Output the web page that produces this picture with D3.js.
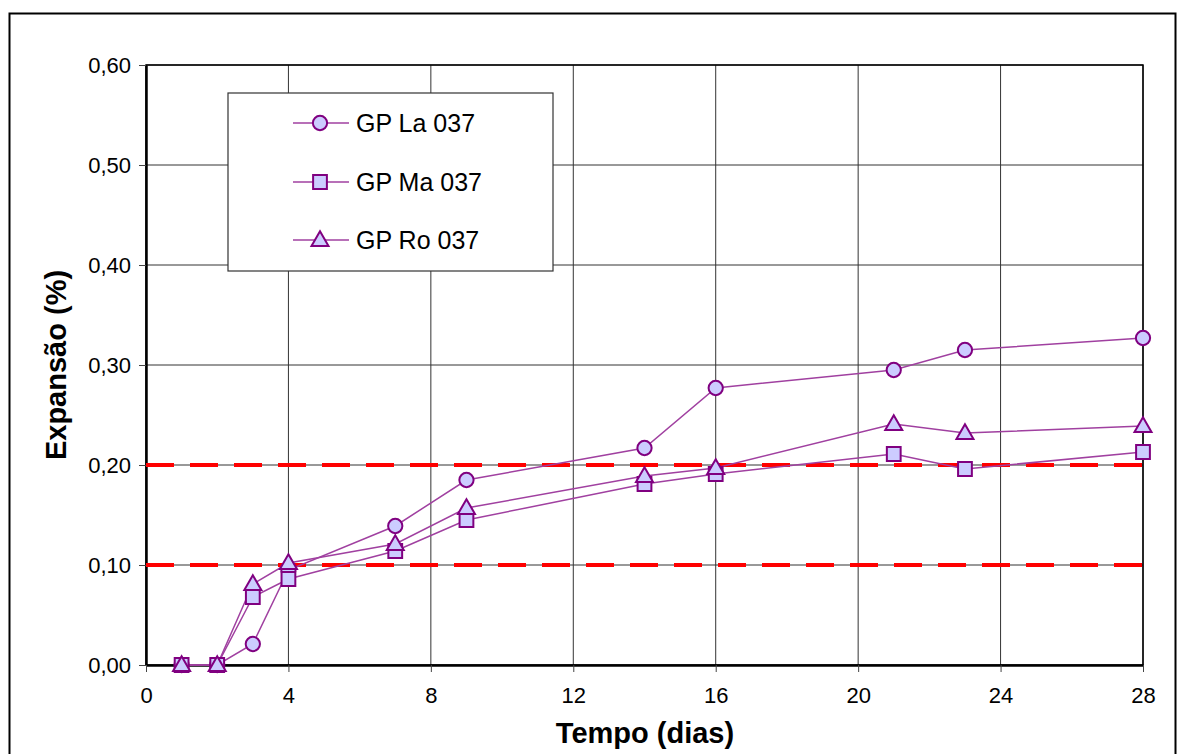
<!DOCTYPE html>
<html><head><meta charset="utf-8">
<script src="https://cdn.jsdelivr.net/npm/d3@7"></script>
<style>body{margin:0;background:#fff;}svg{display:block;font-family:"Liberation Sans",Arial,sans-serif;}</style>
</head><body>
<svg id="c" width="1178" height="754"></svg>
<script>
const days = [1, 2, 3, 4, 7, 9, 14, 16, 21, 23, 28];
const laValues = [0, 0, 0.021, 0.095, 0.139, 0.185, 0.217, 0.277, 0.295, 0.315, 0.327];
const maValues = [0, 0, 0.068, 0.086, 0.114, 0.145, 0.181, 0.191, 0.211, 0.196, 0.213];
const roValues = [0, 0, 0.081, 0.102, 0.121, 0.157, 0.189, 0.197, 0.241, 0.232, 0.239];
const seriesNames = ["GP La 037", "GP Ma 037", "GP Ro 037"];
const xTicks = [0, 4, 8, 12, 16, 20, 24, 28];
const yTicks = [0, 0.1, 0.2, 0.3, 0.4, 0.5, 0.6];
const limitValues = [0.1, 0.2];

const svg = d3.select("#c");
const x = d3.scaleLinear().domain([0, 28]).range([146, 1143]);
const y = d3.scaleLinear().domain([0, 0.6]).range([665, 65]);
const fmt = v => d3.format(".2f")(v).replace(".", ",");

// outer frame
svg.append("rect").attr("x", 9.5).attr("y", 13.5).attr("width", 1166).attr("height", 760)
  .attr("fill", "none").attr("stroke", "#000").attr("stroke-width", 2);

// grid
svg.append("g").selectAll("line").data(yTicks.slice(1)).join("line")
  .attr("x1", x(0)).attr("x2", x(28)).attr("y1", d => y(d)).attr("y2", d => y(d))
  .attr("stroke", "#333").attr("stroke-width", 1);
svg.append("g").selectAll("line").data(xTicks.slice(1)).join("line")
  .attr("y1", y(0)).attr("y2", y(0.6)).attr("x1", d => x(d)).attr("x2", d => x(d))
  .attr("stroke", "#333").attr("stroke-width", 1);
svg.append("rect").attr("x", x(0)).attr("y", y(0.6)).attr("width", x(28) - x(0)).attr("height", y(0) - y(0.6))
  .attr("fill", "none").attr("stroke", "#000").attr("stroke-width", 1.5);

// axes
const yAxis = svg.append("g").attr("transform", `translate(${x(0)},0)`)
  .call(d3.axisLeft(y).tickValues(yTicks).tickFormat(fmt).tickSize(7).tickSizeOuter(0));
const xAxis = svg.append("g").attr("transform", `translate(0,${y(0)})`)
  .call(d3.axisBottom(x).tickValues(xTicks).tickSize(7).tickSizeOuter(0));
[yAxis, xAxis].forEach(g => {
  g.attr("font-size", null).attr("font-family", null);
  g.select(".domain").attr("stroke", "#000").attr("stroke-width", 2.5);
  g.selectAll(".tick line").attr("stroke", "#444");
  g.selectAll("text").style("font-family", "'Liberation Sans', Arial, sans-serif").style("font-size", "22px").attr("fill", "#000");
});
yAxis.selectAll("text").attr("x", -15);
xAxis.selectAll("text").attr("y", 22);

// red limit lines
svg.append("g").selectAll("line").data(limitValues).join("line")
  .attr("x1", x(0)).attr("x2", x(28)).attr("y1", d => y(d)).attr("y2", d => y(d))
  .attr("stroke", "#ff0000").attr("stroke-width", 4).attr("stroke-dasharray", "28,16");

// titles
svg.append("text").attr("x", 645).attr("y", 743).attr("text-anchor", "middle")
  .attr("font-size", 29).attr("font-weight", "bold").text("Tempo (dias)");
svg.append("text").attr("transform", "translate(66,365) rotate(-90)").attr("text-anchor", "middle")
  .attr("font-size", 29).attr("font-weight", "bold").text("Expansão (%)");

const lineColor = "#a040a0", stroke = "#800080", fill = "#ccccff";
const allSeries = [laValues, maValues, roValues];
const shapes = [d3.symbolCircle, d3.symbolSquare, d3.symbolTriangle];
const sizes = [160, 190, 125];
const line = d3.line().x((d, i) => x(days[i])).y(d => y(d));

allSeries.forEach((vals, k) => {
  svg.append("path").datum(vals).attr("d", line).attr("fill", "none")
    .attr("stroke", lineColor).attr("stroke-width", 1.5);
});
allSeries.forEach((vals, k) => {
  svg.append("g").selectAll("path").data(vals).join("path")
    .attr("transform", (d, i) => `translate(${x(days[i])},${y(d) + (k === 2 ? 1 : 0)})`)
    .attr("d", d3.symbol().type(shapes[k]).size(sizes[k]))
    .attr("fill", fill).attr("stroke", stroke).attr("stroke-width", 2);
});

// legend
const lg = svg.append("g");
lg.append("rect").attr("x", 228).attr("y", 93).attr("width", 325).attr("height", 178)
  .attr("fill", "#fff").attr("stroke", "#333").attr("stroke-width", 1.2);
const legY = [123, 182, 240];
seriesNames.forEach((name, k) => {
  lg.append("line").attr("x1", 293).attr("x2", 349).attr("y1", legY[k]).attr("y2", legY[k])
    .attr("stroke", lineColor).attr("stroke-width", 1.5);
  lg.append("path").attr("transform", `translate(320,${legY[k] + (k === 2 ? 1 : 0)})`)
    .attr("d", d3.symbol().type(shapes[k]).size(sizes[k]))
    .attr("fill", fill).attr("stroke", stroke).attr("stroke-width", 2);
  lg.append("text").attr("x", 356).attr("y", legY[k] + 9).attr("font-size", 25).text(name);
});
</script>
</body></html>
